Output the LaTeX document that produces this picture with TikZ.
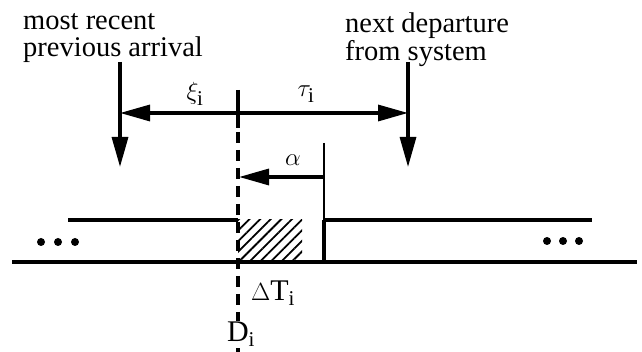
\documentclass[tikz,border=0pt]{standalone}
\usepackage{fontspec}
\setmainfont{Liberation Serif}
\usetikzlibrary{arrows.meta,patterns.meta}
\tikzset{
  thick line/.style={line width=3.2pt},
  big tip/.style={-{Triangle[length=30pt,width=16pt]}},
  lbl/.style={inner sep=0pt,font=\fontsize{30}{30}\selectfont},
  caption/.style={inner sep=0pt,align=left,font=\fontsize{28.5}{27.5}\selectfont},
  dot/.style={circle,fill=black,inner sep=0pt,minimum size=8pt}
}
\begin{document}
\begin{tikzpicture}[x=1pt,y=-1pt]
\useasboundingbox (0,0) rectangle (642,352);
% captions
\node[caption,anchor=north west] (arr) at (23,13) {most recent\\previous arrival};
\node[caption,anchor=north west] (dep) at (345,13) {next departure\\from system};
% coordinates
\coordinate (Atop) at (120,62);
\coordinate (Abot) at (120,167);
\coordinate (Btop) at (408,62);
\coordinate (Bbot) at (408,167);
\coordinate (HL) at (120,113);
\coordinate (HR) at (408,113);
\coordinate (Dtop) at (238,90);
\coordinate (Dbot) at (238,352);
\coordinate (Vtop) at (324,143);
\coordinate (Vmid) at (324,220);
\coordinate (Vbot) at (324,262);
\coordinate (AlR) at (324,177);
\coordinate (AlL) at (239,177);
% vertical arrows
\draw[thick line,big tip] (Atop) -- (Abot);
\draw[thick line,big tip] (Btop) -- (Bbot);
% double arrow
\draw[thick line,{Triangle[length=30pt,width=16pt]}-{Triangle[length=30pt,width=16pt]}] (HL) -- (HR);
% hatched region
\fill[pattern={Lines[angle=45,distance=7.5pt,line width=1.8pt]}] (238,220) rectangle (302,262);
% dashed vertical line
\draw[thick line] (Dtop) -- (238,128);
\draw[thick line,dash pattern=on 11pt off 7pt] (238,132) -- (Dbot);
% alpha arrow
\draw[thick line,big tip] (AlR) -- (AlL);
% vertical solid line
\draw[line width=1.6pt] (Vtop) -- (Vmid);
\draw[thick line] (Vmid) -- (Vbot);
% upper lines
\coordinate (UL1) at (68,220);
\coordinate (UL2) at (238,220);
\coordinate (UR2) at (592,220);
\draw[thick line] (UL1) -- (UL2);
\draw[thick line] (Vmid) -- (UR2);
% lower line
\coordinate (G1) at (12,262);
\coordinate (G2) at (637,262);
\draw[thick line] (G1) -- (G2);
% dots
\node[dot] (d1) at (41,242) {};
\node[dot] (d2) at (58,242) {};
\node[dot] (d3) at (75,242) {};
\node[dot] (d4) at (547,241) {};
\node[dot] (d5) at (563,241) {};
\node[dot] (d6) at (579,241) {};
% labels
\node[lbl] (xi) at (195,94) {$\xi_{\mathrm{i}}$};
\node[lbl] (tau) at (306,94) {$\tau_{\mathrm{i}}$};
\node[lbl] (alpha) at (293,160) {$\alpha$};
\node[lbl] (dT) at (273,293) {$\Delta\mathrm{T}_{\mathrm{i}}$};
\node[lbl,fill=white,inner sep=1pt] (Di) at (241,334) {$\mathrm{D}_{\mathrm{i}}$};
\end{tikzpicture}
\end{document}
